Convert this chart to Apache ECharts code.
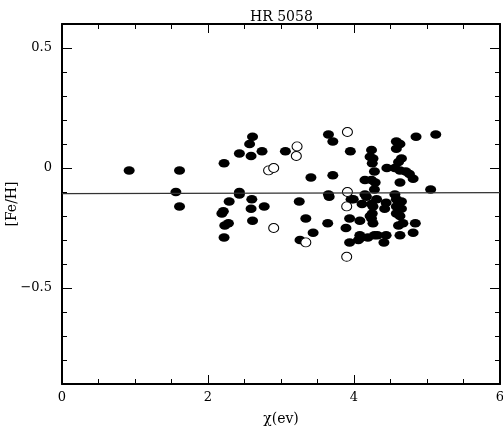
<!DOCTYPE html>
<html>
<head>
<meta charset="utf-8">
<script src="https://cdn.jsdelivr.net/npm/echarts@6/dist/echarts.min.js"></script>
<style>
  html, body { margin: 0; padding: 0; background: #fff; }
  #hr5058 { width: 503px; height: 428px; }
</style>
</head>
<body>
<div id="hr5058"></div>
<script>
  // filled symbols: [chi (eV), [Fe/H]]
  let filledPoints = [
    [0.92, -0.01], [1.61, -0.01], [1.56, -0.10], [1.61, -0.16],
    [2.22, 0.02], [2.43, 0.06], [2.57, 0.10], [2.61, 0.13], [2.59, 0.05], [2.74, 0.07],
    [2.43, -0.10], [2.43, -0.11], [2.29, -0.14], [2.19, -0.19], [2.21, -0.18],
    [2.28, -0.23], [2.23, -0.24], [2.22, -0.29],
    [2.60, -0.13], [2.59, -0.17], [2.61, -0.22], [2.77, -0.16],
    [3.06, 0.07], [3.25, -0.14], [3.26, -0.30],
    [3.65, 0.14], [3.71, 0.11], [3.95, 0.07], [3.41, -0.04], [3.71, -0.03],
    [3.65, -0.11], [3.66, -0.12], [3.34, -0.21], [3.64, -0.23], [3.44, -0.27],
    [3.96, -0.13], [3.94, -0.21], [3.89, -0.25], [3.94, -0.31],
    [3.99, -0.13], [4.06, -0.30], [4.08, -0.22], [4.08, -0.28], [4.10, -0.29],
    [4.11, -0.15], [4.15, -0.05], [4.15, -0.11], [4.17, -0.12],
    [4.24, 0.075], [4.22, 0.047], [4.26, 0.04], [4.25, 0.02], [4.28, -0.015],
    [4.24, -0.05], [4.29, -0.06], [4.28, -0.09],
    [4.24, -0.15], [4.26, -0.16], [4.25, -0.19], [4.22, -0.20], [4.24, -0.21],
    [4.26, -0.23], [4.19, -0.29], [4.28, -0.28], [4.32, -0.28], [4.31, -0.13],
    [4.45, 0.0], [4.44, -0.145], [4.42, -0.17], [4.44, -0.28], [4.41, -0.31],
    [4.58, 0.11], [4.63, 0.10], [4.58, 0.08], [4.65, 0.04], [4.61, 0.025],
    [4.56, 0.0], [4.63, -0.01], [4.63, -0.06], [4.56, -0.11], [4.58, -0.13],
    [4.65, -0.14], [4.58, -0.16], [4.65, -0.17], [4.58, -0.19], [4.63, -0.20],
    [4.61, -0.24], [4.67, -0.23], [4.63, -0.28],
    [4.71, -0.015], [4.76, -0.025], [4.81, -0.045],
    [4.85, 0.13], [5.12, 0.14], [5.05, -0.09], [4.84, -0.23], [4.81, -0.27]
  ];

  // open symbols
  let openPoints = [
    [2.83, -0.01], [2.90, 0.00], [3.22, 0.09], [3.21, 0.05], [2.90, -0.25],
    [3.34, -0.31], [3.91, 0.15], [3.91, -0.10], [3.90, -0.16], [3.90, -0.37]
  ];

  // mean abundance line
  let fitLine = [[0, -0.107], [6, -0.103]];

  let yMajor = [-0.5, 0, 0.5];

  let chart = echarts.init(document.getElementById('hr5058'));
  let font = 'DejaVu Serif';

  function yLabel(v) {
    let r = Math.round(v * 10) / 10;
    if (Math.abs(r * 2 - Math.round(r * 2)) > 1e-6) return '';
    if (r === 0) return '0';
    return (r < 0 ? '\u2212' : '') + Math.abs(r).toFixed(1);
  }

  let frame = { show: true, onZero: false, lineStyle: { color: '#000', width: 2 } };
  let noLine = { show: false, onZero: false };

  let option = {
    animation: false,
    backgroundColor: '#fff',
    title: {
      text: 'HR 5058',
      left: 245,
      top: 5,
      textStyle: { fontFamily: font, fontSize: 14, fontWeight: 'normal', color: '#000' }
    },
    grid: { left: 62, right: 3, top: 24, bottom: 44, outerBoundsMode: 'none', containLabel: false },
    xAxis: [
      {
        type: 'value', position: 'bottom', offset: 0, min: 0, max: 6, interval: 2,
        name: '\u03c7(ev)', nameLocation: 'middle', nameGap: 28,
        nameTextStyle: { fontFamily: font, fontSize: 14, color: '#000' },
        axisLine: frame,
        axisTick: { inside: true, length: 9, lineStyle: { color: '#000', width: 1 } },
        minorTick: { show: true, splitNumber: 4, length: 5, lineStyle: { color: '#000', width: 1 } },
        axisLabel: { margin: 7, fontFamily: font, fontSize: 13, color: '#000' },
        splitLine: { show: false }
      },
      {
        type: 'value', position: 'top', offset: 0, min: 0, max: 6, interval: 2,
        axisLine: frame,
        axisTick: { inside: true, length: 9, lineStyle: { color: '#000', width: 1 } },
        minorTick: { show: true, splitNumber: 4, length: 5, lineStyle: { color: '#000', width: 1 } },
        axisLabel: { show: false },
        splitLine: { show: false }
      }
    ],
    yAxis: [
      {
        type: 'value', position: 'left', offset: 0, min: -0.9, max: 0.6, interval: 0.1,
        name: '[Fe/H]', nameLocation: 'middle', nameGap: 43, nameRotate: 90,
        nameMoveOverlap: false,
        nameTextStyle: { fontFamily: font, fontSize: 14, color: '#000' },
        axisLine: frame,
        axisTick: { inside: true, length: 5, lineStyle: { color: '#000', width: 1 } },
        axisLabel: { margin: 10, fontFamily: font, fontSize: 13, color: '#000', formatter: yLabel },
        splitLine: { show: false }
      },
      {
        type: 'value', position: 'right', offset: 0, min: -0.9, max: 0.6, interval: 0.1,
        axisLine: frame,
        axisTick: { inside: true, length: 5, lineStyle: { color: '#000', width: 1 } },
        axisLabel: { show: false },
        splitLine: { show: false }
      },
      {
        type: 'value', position: 'left', offset: 0, min: -0.9, max: 0.6,
        axisLine: noLine,
        axisTick: { inside: true, length: 10, customValues: yMajor, lineStyle: { color: '#000', width: 1 } },
        axisLabel: { show: false },
        splitLine: { show: false }
      },
      {
        type: 'value', position: 'right', offset: 0, min: -0.9, max: 0.6,
        axisLine: noLine,
        axisTick: { inside: true, length: 10, customValues: yMajor, lineStyle: { color: '#000', width: 1 } },
        axisLabel: { show: false },
        splitLine: { show: false }
      }
    ],
    series: [
      {
        name: 'mean',
        type: 'line',
        data: fitLine,
        symbol: 'none',
        lineStyle: { color: '#333', width: 1.2 },
        silent: true
      },
      {
        name: 'filled',
        type: 'scatter',
        data: filledPoints,
        symbol: 'circle',
        symbolSize: [11, 8.5],
        itemStyle: { color: '#000', opacity: 1 }
      },
      {
        name: 'open',
        type: 'scatter',
        data: openPoints,
        symbol: 'circle',
        symbolSize: [10, 9],
        itemStyle: { color: '#fff', borderColor: '#000', borderWidth: 1, opacity: 1 }
      }
    ]
  };

  chart.setOption(option);
</script>
</body>
</html>
